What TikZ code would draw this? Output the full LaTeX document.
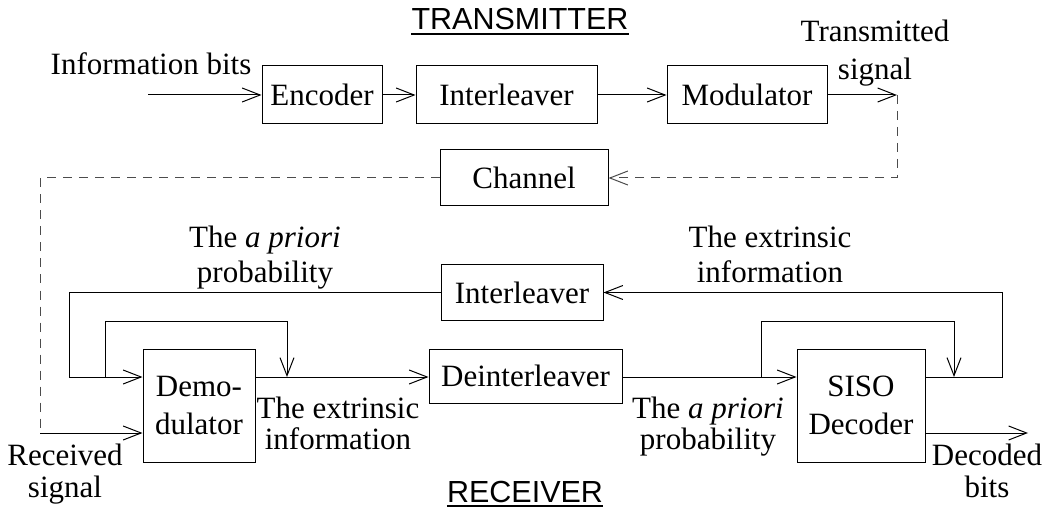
\documentclass[tikz,border=0pt]{standalone}
\usepackage{fontspec}
\setmainfont{Liberation Serif}
\newfontfamily\headfont{Liberation Sans}
\usetikzlibrary{arrows.meta}
\begin{document}
\begin{tikzpicture}[x=1pt,y=-1pt,
  every node/.style={font=\fontsize{31}{36}\selectfont},
  box/.style={draw, line width=1pt, inner sep=0pt},
  lab/.style={align=center, anchor=base, inner sep=0pt},
  head/.style={anchor=base, inner sep=0pt, font=\headfont\fontsize{30.5}{34}\selectfont},
  arr/.style={line width=1pt, -{Straight Barb[length=18pt,width=14pt,line width=1pt]}},
  ln/.style={line width=1pt},
  dsh/.style={line width=1pt, dash pattern=on 9pt off 7pt, black!70}]
\useasboundingbox (0,0) rectangle (1048,510);

% headings
\node[head] (tx) at (520,30) {TRANSMITTER};
\node[head] (rx) at (525,502) {RECEIVER};
\draw[line width=1.6pt] ([yshift=-4pt]tx.base west) -- ([yshift=-4pt]tx.base east);
\draw[line width=1.6pt] ([yshift=-4pt]rx.base west) -- ([yshift=-4pt]rx.base east);

% boxes
\node[box, minimum width=120pt, minimum height=58pt] (enc) at (322,95) {Encoder};
\node[box, minimum width=181pt, minimum height=58pt] (intT) at (506.5,95) {Interleaver};
\node[box, minimum width=160pt, minimum height=58pt] (mod) at (747,95) {Modulator};
\node[box, minimum width=168pt, minimum height=56pt] (chan) at (524,178) {Channel};
\node[box, minimum width=162pt, minimum height=55pt] (intB) at (522,292.5) {Interleaver};
\node[box, minimum width=112pt, minimum height=113pt, align=center, font=\fontsize{31}{38}\selectfont] (demod) at (199,405.5) {Demo-\\dulator};
\node[box, minimum width=193pt, minimum height=54pt] (deint) at (525.5,376) {Deinterleaver};
\node[box, minimum width=128pt, minimum height=113pt, align=center, font=\fontsize{31}{38}\selectfont] (siso) at (861,405.5) {SISO\\Decoder};

% labels (anchor = baseline of last line)
\node[lab] (info) at (151,75) {Information bits};
\node[lab, font=\fontsize{31}{38}\selectfont] (txs) at (875,80) {Transmitted\\signal};
\node[lab, font=\fontsize{31}{35}\selectfont] (apl) at (265,283) {The \textit{a priori}\\probability};
\node[lab, font=\fontsize{31}{35}\selectfont] (exr) at (770,283) {The extrinsic\\information};
\node[lab, font=\fontsize{31}{31}\selectfont] (exd) at (338,449) {The extrinsic\\information};
\node[lab, font=\fontsize{31}{31}\selectfont] (apd) at (708,449) {The \textit{a priori}\\probability};
\node[lab, font=\fontsize{31}{32}\selectfont] (rcv) at (65,497) {Received\\signal};
\node[lab, font=\fontsize{31}{32}\selectfont] (dec) at (987,497) {Decoded\\bits};

% coordinates
\coordinate (infoS) at (148,95);
\coordinate (txE) at (897,95);
\coordinate (txC) at (897,178);
\coordinate (rxC) at (40,433);
\coordinate (oL) at (69,292.5);
\coordinate (iL1) at (105,377);
\coordinate (iL2) at (287,377);
\coordinate (iR1) at (761,377);
\coordinate (iR2) at (954,377);
\coordinate (oR) at (1002,377);
\coordinate (decE) at (1028,433);

% transmitter chain
\draw[arr] (infoS) -- (enc.west);
\draw[arr] (enc.east) -- (intT.west);
\draw[arr] (intT.east) -- (mod.west);
\draw[arr] (mod.east) -- (txE);

% channel
\draw[dsh, arr, black!70] (txE) -- (txC) -- (chan.east);
\draw[dsh] (chan.west) -| (rxC);
\draw[arr] (rxC) -- (demod.west |- rxC);

% demodulator loops
\draw[arr] (intB.west) -- (oL) -- (oL |- iL1) -- (demod.west |- iL1);
\draw[arr] (iL1) -- ++(0,-56) -| (iL2);
\draw[arr] (demod.east |- iL2) -- (deint.west |- iL2);
\draw[arr] (deint.east |- iL2) -- (siso.west |- iR1);

% decoder loops
\draw[arr] (iR1) -- ++(0,-56) -| (iR2);
\draw[arr] (siso.east |- oR) -- (oR) |- (intB.east);
\draw[arr] (siso.east |- decE) -- (decE);
\end{tikzpicture}
\end{document}
